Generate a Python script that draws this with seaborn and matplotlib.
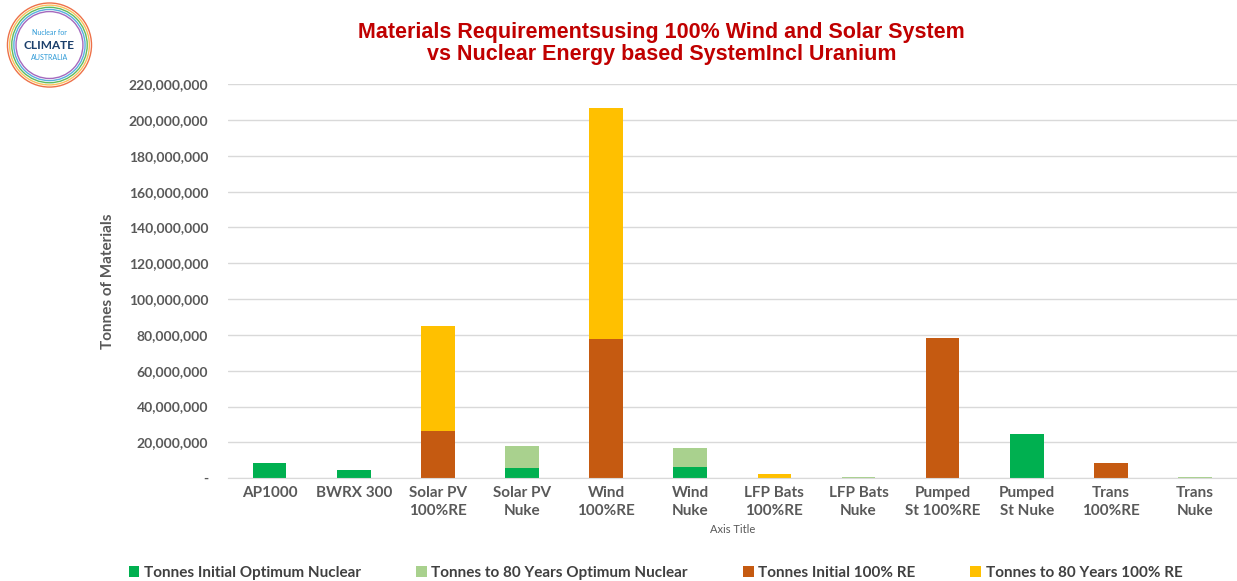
import numpy as np
import pandas as pd
import seaborn as sns
import matplotlib.pyplot as plt
from matplotlib.patches import Circle

categories = ["AP1000\n", "BWRX 300\n", "Solar PV\n100%RE", "Solar PV\nNuke", "Wind\n100%RE",
              "Wind\nNuke", "LFP Bats\n100%RE", "LFP Bats\nNuke", "Pumped\nSt 100%RE",
              "Pumped\nSt Nuke", "Trans\n100%RE", "Trans\nNuke"]

initial_nuclear = [8.2e6, 4.3e6, 0, 5.5e6, 0, 6.0e6, 0, 0.3e6, 0, 24.8e6, 0, 0.3e6]
to80_nuclear = [0, 0, 0, 12.3e6, 0, 10.8e6, 0, 0.5e6, 0, 0, 0, 0.5e6]
initial_re = [0, 0, 26.3e6, 0, 77.8e6, 0, 0.3e6, 0, 78.3e6, 0, 8.2e6, 0]
to80_re = [0, 0, 58.5e6, 0, 129.2e6, 0, 2.0e6, 0, 0, 0, 0, 0]

series = ["Tonnes Initial Optimum Nuclear", "Tonnes to 80 Years Optimum Nuclear",
          "Tonnes Initial 100% RE", "Tonnes to 80 Years 100% RE"]
colors = ["#00B050", "#A9D18E", "#C55A11", "#FFC000"]

sns.set_style("white")
plt.rcParams['font.family'] = ['Lato', 'DejaVu Sans']

df = pd.DataFrame({"cat": categories, "s1": initial_nuclear, "s2": to80_nuclear,
                   "s3": initial_re, "s4": to80_re})
cum = df[["s1", "s2", "s3", "s4"]].cumsum(axis=1)

fig = plt.figure(figsize=(12.37, 5.81), dpi=100)
ax = fig.add_axes([0.184, 0.177, 0.816, 0.678])

# draw stacked bars as overlapping cumulative totals, tallest first
for col, color, label in zip(["s4", "s3", "s2", "s1"], colors[::-1], series[::-1]):
    sns.barplot(x=df["cat"], y=cum[col], color=color, width=0.4, ax=ax,
                saturation=1, label=label, linewidth=0)

ax.set_ylim(0, 220e6)
ticks = np.arange(0, 220e6 + 1, 20e6)
ax.set_yticks(ticks)
ax.set_yticklabels(["-" if t == 0 else f"{int(t):,}" for t in ticks],
                   fontsize=10, fontweight="bold", color="#595959")
ax.yaxis.grid(True, color="#D9D9D9", linewidth=1)
ax.set_axisbelow(True)
for s in ["top", "right", "left"]:
    ax.spines[s].set_visible(False)
ax.spines["bottom"].set_color("#D9D9D9")
ax.tick_params(axis="x", length=0, pad=6)
ax.tick_params(axis="y", length=0, pad=14)
ax.set_xticks(range(len(categories)))
ax.set_xticklabels(categories, fontsize=11, fontweight="bold", color="#595959", linespacing=1.35)
ax.set_xlabel("Axis Title", fontsize=8, color="#595959", labelpad=4)
ax.set_ylabel("Tonnes of Materials", fontsize=11, fontweight="bold", color="#595959", labelpad=10)
ax.set_xlim(-0.5, len(categories) - 0.5)

ax.get_legend().remove()
handles, labels = ax.get_legend_handles_labels()
order = [labels.index(s) for s in series]
fig.legend([handles[i] for i in order], series, loc="lower center", ncol=4,
           bbox_to_anchor=(0.53, -0.022), frameon=False, handlelength=0.7, handleheight=0.7,
           handletextpad=0.3, columnspacing=3.6,
           prop={"weight": "bold", "size": 11})
for t in fig.legends[0].get_texts():
    t.set_color("#404040")

fig.text(0.535, 0.925, "Materials Requirementsusing 100% Wind and Solar System\n"
         "vs Nuclear Energy based SystemIncl Uranium", ha="center", va="center",
         fontsize=15.5, fontweight="bold", color="#C00000", family="Liberation Sans",
         linespacing=1.1)

# logo
lax = fig.add_axes([0.0, 0.845, 0.08, 0.155])
lax.set_xlim(-1.05, 1.05)
lax.set_ylim(-1.05, 1.05)
lax.set_aspect("equal")
lax.axis("off")
for r, c in zip([0.98, 0.93, 0.88, 0.83, 0.78], ["#E94E1B", "#F9B233", "#3AAA35", "#2E9AD7", "#8E44AD"]):
    lax.add_patch(Circle((0, 0), r, fill=False, edgecolor=c, linewidth=1.0, alpha=0.8))
lax.text(0, 0.3, "Nuclear for", ha="center", va="center", fontsize=5, color="#2E9AD7")
lax.text(0, 0.0, "CLIMATE", ha="center", va="center", fontsize=8.5, fontweight="bold", color="#1B3F6B")
lax.text(0, -0.3, "AUSTRALIA", ha="center", va="center", fontsize=5, color="#2E9AD7")

fig.savefig("out.png", dpi=100)
